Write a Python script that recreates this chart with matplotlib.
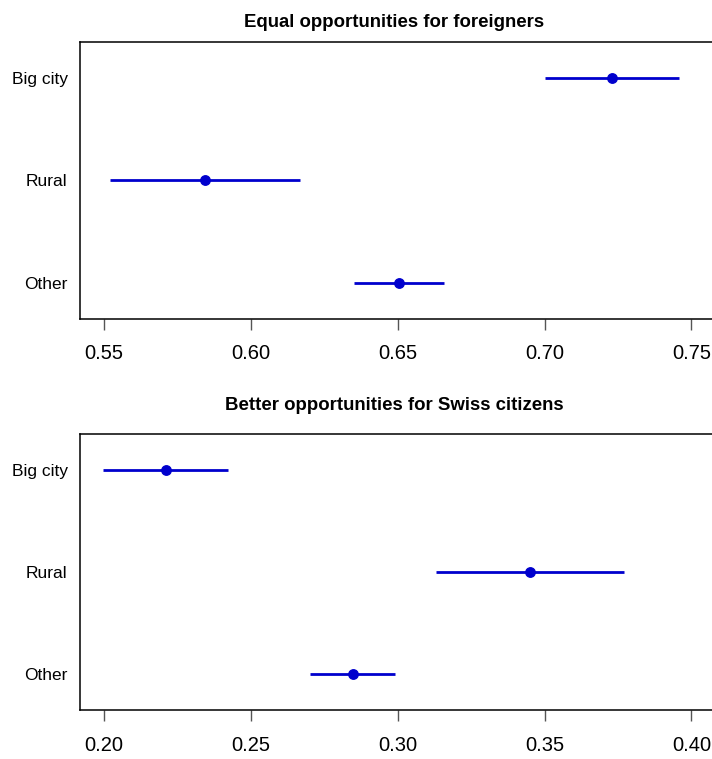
import matplotlib
matplotlib.use('Agg')
import matplotlib.pyplot as plt

# groups, top to bottom
groups = ['Big city', 'Rural', 'Other']

# panel 1: equal opportunities for foreigners
eq_mean = [0.7230, 0.5844, 0.6505]
eq_low = [0.7002, 0.5521, 0.6351]
eq_high = [0.7458, 0.6168, 0.6658]
eq_ticks = [0.55, 0.60, 0.65, 0.70, 0.75]

# panel 2: better opportunities for Swiss citizens
sw_mean = [0.2211, 0.3450, 0.2848]
sw_low = [0.1996, 0.3130, 0.2702]
sw_high = [0.2424, 0.3771, 0.2991]
sw_ticks = [0.20, 0.25, 0.30, 0.35, 0.40]

titles = ['Equal opportunities for foreigners', 'Better opportunities for Swiss citizens']

plt.rcParams['font.family'] = ['Liberation Sans', 'DejaVu Sans']

W, H = 712, 759
fig = plt.figure(figsize=(W / 100, H / 100), dpi=100)

BLUE = '#0000CD'


def px_axes(left, top, bottom):
    # axes box in pixel coordinates, running off the right edge
    return fig.add_axes([left / W, 1 - bottom / H, (W - left) / W, (bottom - top) / H])


def panel(ax, mean, low, high, ticks, xlim, title, title_y):
    ypos = [3, 2, 1]
    ax.hlines(ypos, low, high, color=BLUE, lw=2.0)
    ax.plot(mean, ypos, 'o', color=BLUE, ms=6.8)
    ax.set_xlim(*xlim)
    ax.set_ylim(0.65, 3.35)
    ax.set_yticks(ypos)
    ax.set_yticklabels(groups, fontsize=12.5)
    ax.set_xticks(ticks)
    ax.set_xticklabels([f'{t:.2f}' for t in ticks], fontsize=14.5)
    ax.tick_params(axis='y', length=0, pad=9)
    ax.tick_params(axis='x', length=8, width=1, color='#555555', pad=10.5)
    ax.spines['right'].set_visible(False)
    for s in ['left', 'top', 'bottom']:
        ax.spines[s].set_linewidth(1.1)
        ax.spines[s].set_color('black')
    fig.text(394 / W, 1 - title_y / H, title, ha='center', va='baseline',
             fontsize=13.4, fontweight='bold')


ax1 = px_axes(80, 42, 318.7)
panel(ax1, eq_mean, eq_low, eq_high, eq_ticks, (0.5419, 0.7570), titles[0], 27)

ax2 = px_axes(80, 433.7, 710.3)
panel(ax2, sw_mean, sw_low, sw_high, sw_ticks, (0.1919, 0.4070), titles[1], 410)

fig.savefig('out.png', dpi=100)
